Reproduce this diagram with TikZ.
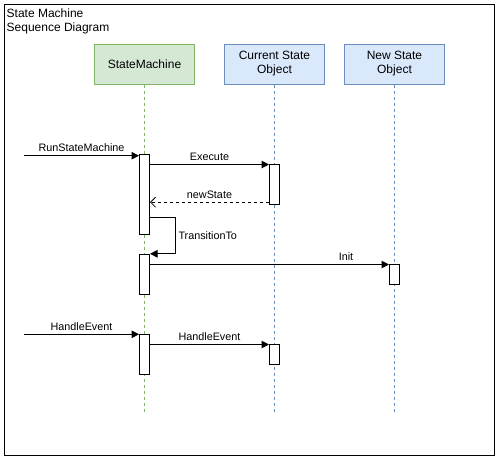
\documentclass[tikz,border=0pt]{standalone}
\usepackage{fontspec}
\setmainfont{Liberation Sans}
\usetikzlibrary{arrows.meta, positioning, calc}
\definecolor{smfill}{RGB}{213, 232, 212}
\definecolor{smline}{RGB}{130, 179, 102}
\definecolor{objfill}{RGB}{218, 232, 252}
\definecolor{objline}{RGB}{108, 142, 191}
\tikzset{
    head/.style={rectangle, draw, line width=1pt, align=center, minimum width=100pt, minimum height=40pt, font=\fontsize{12}{14}\selectfont, inner sep=0pt},
    smhead/.style={head, fill=smfill, draw=smline},
    objhead/.style={head, fill=objfill, draw=objline},
    life/.style={line width=0.8pt, dash pattern=on 3pt off 3pt},
    act/.style={rectangle, draw=black, fill=white, line width=1pt, minimum width=10pt, inner sep=0pt},
    msg/.style={-{Triangle[length=7.5pt, width=7.5pt]}, line width=1pt},
    ret/.style={-{Straight Barb[length=5pt, width=10pt]}, line width=0.8pt, dash pattern=on 3pt off 3pt},
    lbl/.style={font=\fontsize{10.8}{12}\selectfont, inner sep=3.2pt}
}
\begin{document}
\begin{tikzpicture}[x=1pt, y=-1pt]
    \useasboundingbox (0,0) rectangle (499,459);
    \draw[line width=1pt] (4,4) rectangle (494,455);
    \node[anchor=north west, align=left, font=\fontsize{12}{14}\selectfont, inner sep=0pt] (title) at (6.5,8.8) {State Machine\\Sequence Diagram};
    % heads and lifelines
    \node[smhead] (smhead) at (144.5,64) {StateMachine};
    \node[objhead] (curhead) at (274.5,64) {Current State\\Object};
    \node[objhead] (newhead) at (394.5,64) {New State\\Object};
    \coordinate (smend) at (144.5,412);
    \coordinate (curend) at (274.5,412);
    \coordinate (newend) at (394.5,412);
    \draw[life, smline] (smhead) -- (smend);
    \draw[life, objline] (curhead) -- (curend);
    \draw[life, objline] (newhead) -- (newend);
    % activations
    \node[act, minimum height=80pt] (sm1) at (144.5,194.2) {};
    \node[act, minimum height=40pt] (cur1) at (274.5,184.3) {};
    \node[act, minimum height=40pt] (sm2) at (144.5,274.3) {};
    \node[act, minimum height=20pt] (new1) at (394.5,274.3) {};
    \node[act, minimum height=40pt] (sm3) at (144.5,354.2) {};
    \node[act, minimum height=20pt] (cur2) at (274.5,354.2) {};
    % messages
    \coordinate (runin) at (24,155.7);
    \coordinate (hein) at (24,334.3);
    \draw[msg] (runin) -- (runin -| sm1.west) node[lbl, above, midway] {RunStateMachine};
    \draw[msg] ([yshift=-0.7pt]cur1.north west -| sm1.east) -- ([yshift=-0.7pt]cur1.north west) node[lbl, above, midway] {Execute};
    \draw[ret] ([yshift=2.6pt]cur1.south west) -- ([yshift=2.6pt]cur1.south west -| sm1.east) node[lbl, above, midway] {newState};
    \draw[msg] ([yshift=17pt]sm1.south east) -- ++(25,0) |- (sm2.north east) node[lbl, right, pos=0.25, inner sep=3pt] {TransitionTo};
    \draw[msg] ([yshift=-0.7pt]new1.north west -| sm2.east) -- ([yshift=-0.7pt]new1.north west) node[lbl, above, pos=0.82] {Init};
    \draw[msg] (hein) -- (hein -| sm3.west) node[lbl, above, midway] {HandleEvent};
    \draw[msg] ([yshift=-0.8pt]cur2.north west -| sm3.east) -- ([yshift=-0.8pt]cur2.north west) node[lbl, above, midway] {HandleEvent};
\end{tikzpicture}
\end{document}
